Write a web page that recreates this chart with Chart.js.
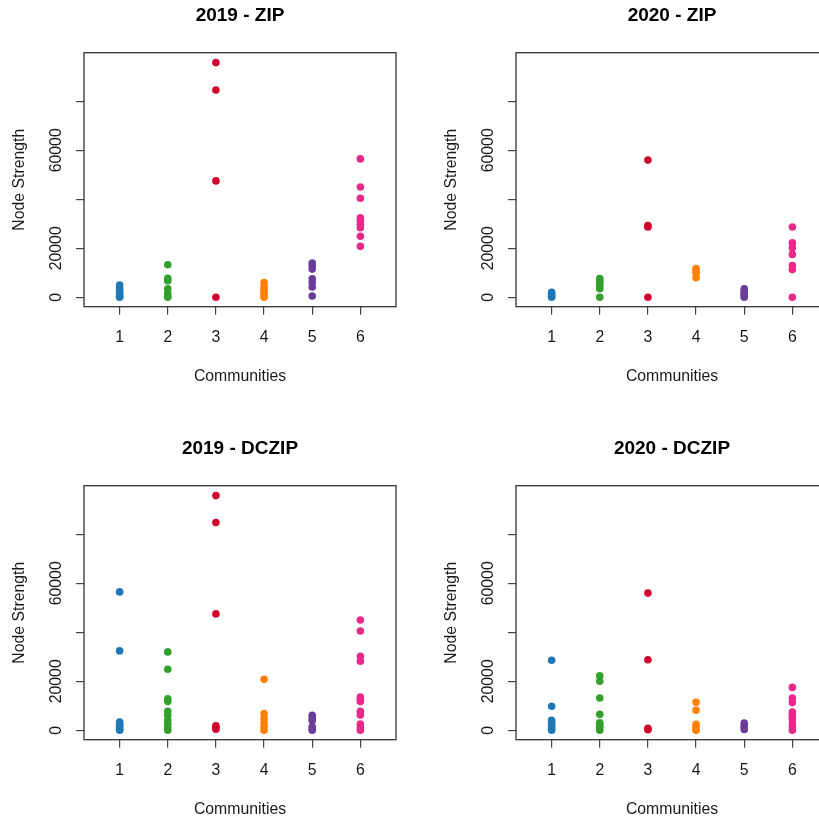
<!DOCTYPE html>
<html><head><meta charset="utf-8">
<script src="https://cdn.jsdelivr.net/npm/chart.js@4.4.1/dist/chart.umd.min.js"></script>
<style>
html,body{margin:0;padding:0;background:#fff;overflow:hidden;width:819px;height:821px;position:relative;}
.panel{position:absolute;width:432px;height:433px;}
</style></head><body>
<div class="panel" style="left:0px;top:0px"><canvas id="c0"></canvas></div>
<div class="panel" style="left:431.7px;top:0px"><canvas id="c1"></canvas></div>
<div class="panel" style="left:0px;top:432.7px"><canvas id="c2"></canvas></div>
<div class="panel" style="left:431.7px;top:432.7px"><canvas id="c3"></canvas></div>
<script>
// ---- data ----
const communities = [1, 2, 3, 4, 5, 6];
const yTicks = [0, 20000, 40000, 60000, 80000];
const yTickLabels = ['0', '20000', '', '60000', ''];
const panelTitles = ['2019 - ZIP', '2020 - ZIP', '2019 - DCZIP', '2020 - DCZIP'];
const communityColors = ['#1f78b4', '#33a02c', '#d0042c', '#ff7f00', '#6a3d9a', '#e7298a'];

const zip2019 = [
  [5000, 3600, 2500, 1600, 900, 300, 0],
  [13300, 7800, 6800, 3500, 1500, 500, 0],
  [95800, 84600, 47500, 0],
  [6000, 4500, 3100, 1900, 800, 0],
  [14000, 12800, 11500, 7500, 6000, 4200, 500],
  [56500, 45000, 40400, 32400, 31400, 29800, 28400, 24900, 20800]
];
const zip2020 = [
  [2000, 1200, 500, 0],
  [7600, 6600, 5800, 4800, 3500, 0],
  [56000, 29300, 28700, 0],
  [11700, 10700, 9800, 8000],
  [3500, 2500, 1500, 700, 0],
  [28700, 22200, 20200, 17500, 13000, 11300, 0]
];
const dczip2019 = [
  [56500, 32400, 3400, 2500, 1800, 1000, 400, 0],
  [32000, 24900, 12900, 11800, 7800, 6100, 4100, 2700, 1000, 0],
  [95800, 84800, 47500, 1800, 1000, 400],
  [20800, 6800, 4800, 3000, 1400, 0],
  [6100, 5000, 4000, 1500, 700, 0],
  [45000, 40500, 30200, 28200, 13600, 12800, 11800, 7800, 6200, 2500, 1000, 0]
];
const dczip2020 = [
  [28600, 9800, 4100, 3200, 2300, 1500, 800, 0],
  [22200, 20000, 13200, 6500, 3100, 2200, 1200, 0],
  [56000, 28800, 800, 200],
  [11400, 8200, 2400, 1400, 600, 0],
  [3000, 2000, 1000, 300],
  [17500, 13200, 11300, 7400, 6100, 4800, 3000, 1500, 0]
];
const panelData = [zip2019, zip2020, dczip2019, dczip2020];

// ---- drawing ----
const FAMILY = '"Liberation Sans", Arial, Helvetica, sans-serif';
Chart.defaults.font.family = FAMILY;
Chart.defaults.color = '#1a1a1a';

const boxAndLabels = {
  id: 'boxAndLabels',
  afterDraw(chart) {
    const {ctx, chartArea: a} = chart;
    const y = chart.scales.y;
    ctx.save();
    ctx.strokeStyle = '#333';
    ctx.lineWidth = 1.3;
    ctx.strokeRect(a.left, a.top, a.right - a.left, a.bottom - a.top);
    ctx.fillStyle = '#1a1a1a';
    ctx.font = '15.8px ' + FAMILY;
    ctx.textAlign = 'center';
    ctx.textBaseline = 'middle';
    yTicks.forEach((v, i) => {
      const lbl = yTickLabels[i];
      if (!lbl) return;
      const py = y.getPixelForValue(v);
      ctx.save();
      ctx.translate(a.left - 27, py);
      ctx.rotate(-Math.PI / 2);
      ctx.fillText(lbl, 0, 0);
      ctx.restore();
    });
    ctx.restore();
  }
};

function makeChart(idx) {
  const data = panelData[idx];
  const datasets = data.map((vals, ci) => ({
    label: 'Community ' + communities[ci],
    data: vals.map(v => ({x: communities[ci], y: v})),
    backgroundColor: communityColors[ci],
    borderColor: communityColors[ci],
    pointRadius: 3.8,
    pointHoverRadius: 3.8,
    pointBorderWidth: 0
  }));
  const gridOpts = {drawOnChartArea: false, drawTicks: true, tickLength: 8, color: '#444', lineWidth: 1.2};
  new Chart(document.getElementById('c' + idx), {
    type: 'scatter',
    data: {datasets},
    options: {
      responsive: true,
      maintainAspectRatio: false,
      animation: false,
      layout: {padding: {left: 0, right: 36, top: 0, bottom: 0}},
      plugins: {
        legend: {display: false},
        tooltip: {enabled: false},
        title: {
          display: true, fullSize: false, text: panelTitles[idx], color: '#000',
          font: {size: 19, weight: 'bold', family: FAMILY},
          padding: {top: 4.4, bottom: 25.5}
        }
      },
      scales: {
        x: {
          type: 'linear', min: 0.26, max: 6.74,
          afterBuildTicks: s => { s.ticks = communities.map(v => ({value: v})); },
          ticks: {callback: v => String(v), padding: 13, autoSkip: false, maxRotation: 0, color: '#1a1a1a', font: {size: 15.8}},
          grid: gridOpts,
          border: {display: false},
          title: {display: true, text: 'Communities', color: '#1a1a1a', font: {size: 15.8}, padding: {top: 0, bottom: 46.5}},
          afterFit: s => { s.height = 126.3; }
        },
        y: {
          type: 'linear', min: -3840, max: 99840,
          afterBuildTicks: s => { s.ticks = yTicks.map(v => ({value: v})); },
          ticks: {display: false},
          grid: gridOpts,
          border: {display: false},
          title: {display: true, text: 'Node Strength', color: '#1a1a1a', font: {size: 15.8}, padding: {top: 10.2, bottom: 0}},
          afterFit: s => { s.width = 84; }
        }
      }
    },
    plugins: [boxAndLabels]
  });
}
[0, 1, 2, 3].forEach(makeChart);
</script>
</body></html>
